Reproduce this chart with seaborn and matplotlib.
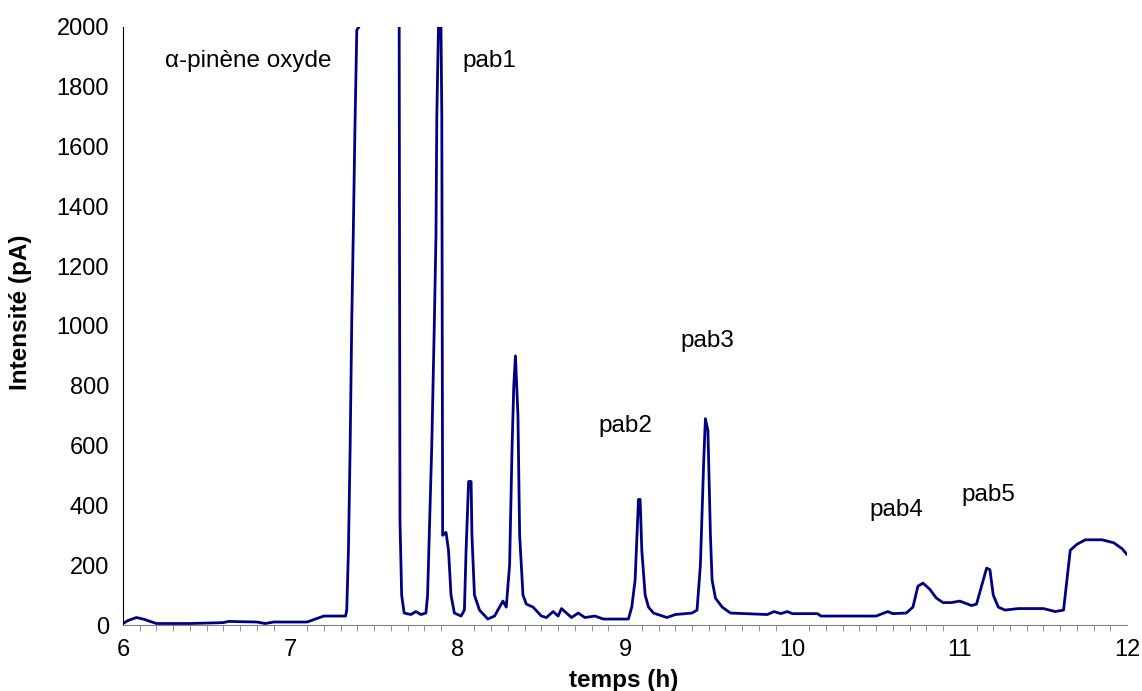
import numpy as np
import pandas as pd
import seaborn as sns
import matplotlib.pyplot as plt
from matplotlib.ticker import MultipleLocator

# chromatogram (values above 2000 are clipped by the axis)
temps = [6.00, 6.03, 6.08, 6.12, 6.20, 6.40, 6.60, 6.63, 6.80, 6.85, 6.90, 7.10,
         7.15, 7.20, 7.33, 7.337, 7.347, 7.357, 7.367, 7.376, 7.386, 7.397, 7.41,
         7.42, 7.50, 7.64, 7.65, 7.655, 7.665, 7.68, 7.72, 7.75, 7.78, 7.81,
         7.82, 7.83, 7.845, 7.86, 7.87, 7.875, 7.885, 7.89, 7.90, 7.905, 7.91,
         7.93, 7.945, 7.96, 7.98, 8.02, 8.04, 8.05, 8.065, 8.08, 8.085, 8.10,
         8.13, 8.18, 8.22, 8.27, 8.29, 8.31, 8.325, 8.335, 8.345, 8.36, 8.37,
         8.39, 8.41, 8.45, 8.50, 8.53, 8.57, 8.60, 8.62, 8.68, 8.72, 8.76, 8.82,
         8.87, 9.02, 9.04, 9.06, 9.075, 9.08, 9.09, 9.10, 9.12, 9.14, 9.17, 9.25,
         9.30, 9.40, 9.43, 9.45, 9.47, 9.48, 9.495, 9.51, 9.52, 9.54, 9.58, 9.63,
         9.85, 9.89, 9.93, 9.97, 10.00, 10.15, 10.17, 10.50, 10.57, 10.60, 10.68,
         10.72, 10.75, 10.78, 10.82, 10.86, 10.90, 10.95, 11.00, 11.07, 11.10,
         11.13, 11.16, 11.18, 11.20, 11.23, 11.27, 11.35, 11.50, 11.57, 11.62,
         11.64, 11.66, 11.70, 11.75, 11.85, 11.92, 11.97, 12.00]
intensite = [5, 15, 25, 20, 5, 5, 8, 12, 10, 5, 10, 10,
             20, 30, 30, 50, 250, 585, 1020, 1310, 1665, 1990, 2000,
             2100, 6000, 6000, 2100, 350, 100, 40, 35, 45, 35, 40,
             100, 300, 600, 1000, 1300, 1700, 2000, 2600, 2000, 1700, 300,
             310, 250, 100, 40, 30, 50, 250, 480, 480, 300, 100,
             50, 20, 30, 80, 60, 200, 600, 800, 900, 700, 300,
             100, 70, 60, 30, 25, 45, 30, 55, 25, 40, 25, 30,
             20, 20, 60, 150, 350, 420, 420, 250, 100, 60, 40, 25,
             35, 40, 50, 200, 550, 690, 650, 300, 150, 90, 60, 40,
             35, 45, 38, 45, 38, 38, 30, 30, 45, 38, 40,
             60, 130, 140, 120, 90, 75, 75, 80, 65, 70,
             130, 190, 185, 100, 60, 50, 55, 55, 45, 50,
             150, 250, 270, 285, 285, 275, 255, 235]

noms = ["\u03b1-pinène oxyde", "pab1", "pab2", "pab3", "pab4", "pab5"]
noms_x = [6.25, 8.03, 8.84, 9.33, 10.46, 11.01]
noms_y = [1885, 1885, 665, 950, 385, 435]

df = pd.DataFrame({"temps": temps, "intensite": intensite})

sns.set_style("white")
plt.rcParams["font.family"] = ["Liberation Sans", "DejaVu Sans"]
plt.rcParams["text.color"] = "black"
plt.rcParams["axes.labelcolor"] = "black"

fig = plt.figure(figsize=(11.42, 6.91), dpi=100)
ax = fig.add_axes([0.1077, 0.0955, 0.8793, 0.8655])

sns.lineplot(data=df, x="temps", y="intensite", sort=False, estimator=None,
             color="#000080", linewidth=2, ax=ax)

for n, x, y in zip(noms, noms_x, noms_y):
    ax.text(x, y, n, fontsize=17.5, va="center", ha="left")

ax.set_xlim(6, 12)
ax.set_ylim(0, 2000)
ax.xaxis.set_major_locator(MultipleLocator(1))
ax.xaxis.set_minor_locator(MultipleLocator(0.1))
ax.yaxis.set_major_locator(MultipleLocator(200))
ax.tick_params(axis="both", which="major", direction="out", length=6,
               labelsize=17, color="#808080", labelcolor="black")
ax.tick_params(axis="x", which="minor", direction="out", length=4,
               color="#808080", bottom=True)
ax.tick_params(axis="x", pad=4)
ax.tick_params(axis="y", pad=4)
sns.despine(ax=ax)
ax.spines["left"].set_color("black")
ax.spines["bottom"].set_color("#808080")
ax.set_xlabel("temps (h)", fontsize=17.5, fontweight="bold")
ax.set_ylabel("Intensité (pA)", fontsize=17.5, fontweight="bold")
ax.xaxis.set_label_coords(0.4985, -0.073)
ax.yaxis.set_label_coords(-0.091, 0.523)

fig.savefig("out.png", dpi=100)
